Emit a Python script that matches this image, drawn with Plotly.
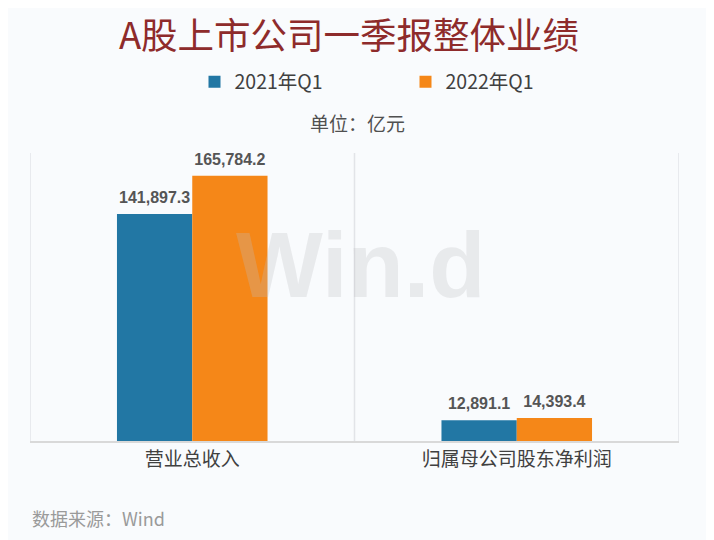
import plotly.graph_objects as go

categories = ["营业总收入", "归属母公司股东净利润"]
series_names = ["2021年Q1", "2022年Q1"]
values_2021 = [141897.3, 12891.1]
values_2022 = [165784.2, 14393.4]
colors = ["#2277A4", "#F58718"]

BG = "#F9FBFD"
CJK = "Noto Sans CJK SC, Liberation Sans, sans-serif"
NUM = "Liberation Sans Narrow, Liberation Sans, Arial, sans-serif"

W, H = 714, 540
ML, MR, MT, MB = 22, 43, 145, 107
PW, PH = W - ML - MR, H - MT - MB
BASE = H - MB


def px(xf):
    return (xf - ML) / PW


def py(yf):
    return (BASE - yf) / PH


fig = go.Figure()
for i, (name, vals, col) in enumerate(zip(series_names, [values_2021, values_2022], colors)):
    fig.add_trace(go.Bar(
        x=categories, y=vals, name=name, marker=dict(color=col, line=dict(width=0)),
        offsetgroup=str(i), alignmentgroup="g",
    ))
    fig.add_trace(go.Scatter(
        x=categories, y=vals, mode="markers+text", showlegend=False, hoverinfo="skip",
        offsetgroup=str(i), alignmentgroup="g", cliponaxis=False,
        marker=dict(size=10, color="rgba(0,0,0,0)"),
        text=[f"<b>{v:,.1f}</b>" for v in vals], textposition="top center",
        textfont=dict(family=NUM, size=16, color="#555555"),
    ))

# category separators
for xv in [-0.5, 0.5, 1.5]:
    fig.add_shape(type="line", xref="x", yref="paper", x0=xv, x1=xv, y0=0, y1=1,
                  line=dict(color="#E2E4E8", width=1.5), layer="below")

fig.update_layout(
    width=W, height=H,
    paper_bgcolor=BG, plot_bgcolor=BG,
    margin=dict(l=ML, r=MR, t=MT, b=MB, autoexpand=False),
    barmode="group", bargap=0.536, bargroupgap=0,
    scattermode="group", scattergap=0.536,
    showlegend=True,
    legend=dict(orientation="h", x=0.5 + 51 / PW, xanchor="center", y=1 - 74 / H, yref="container",
                yanchor="middle", font=dict(family=CJK, size=19.5, color="#404040"),
                entrywidth=166, entrywidthmode="pixels", itemwidth=30,
                bgcolor="rgba(0,0,0,0)"),
    title=dict(text="A股上市公司一季报整体业绩", x=341 / W, xanchor="center", y=1 - 28 / H, yanchor="middle",
               font=dict(family=CJK, size=36.5, color="#8E2B2B")),
    xaxis=dict(showgrid=False, showline=True, linecolor="#D9D9D9", linewidth=1.5,
               ticks="", tickfont=dict(family=CJK, size=19, color="#404040"),
               range=[-0.5, 1.5], fixedrange=True),
    yaxis=dict(range=[0, 180000], visible=False, showgrid=False, zeroline=False),
)

fig.add_annotation(text="单位：亿元", xref="paper", yref="paper", x=px(349), y=py(115),
                   showarrow=False, xanchor="center", yanchor="middle",
                   font=dict(family=CJK, size=19, color="#505050"))
fig.add_annotation(text="数据来源：Wind", xref="paper", yref="paper", x=0, y=py(510),
                   showarrow=False, xanchor="left", yanchor="middle",
                   font=dict(family=CJK, size=18, color="#9A9A9A"))
fig.add_annotation(text="<b>Win.d</b>", xref="paper", yref="paper", x=px(353), y=py(257),
                   showarrow=False, xanchor="center", yanchor="middle",
                   font=dict(family="Liberation Sans, Arial, sans-serif", size=92, color="rgba(190,190,195,0.28)"))

fig.write_html("out.html")
